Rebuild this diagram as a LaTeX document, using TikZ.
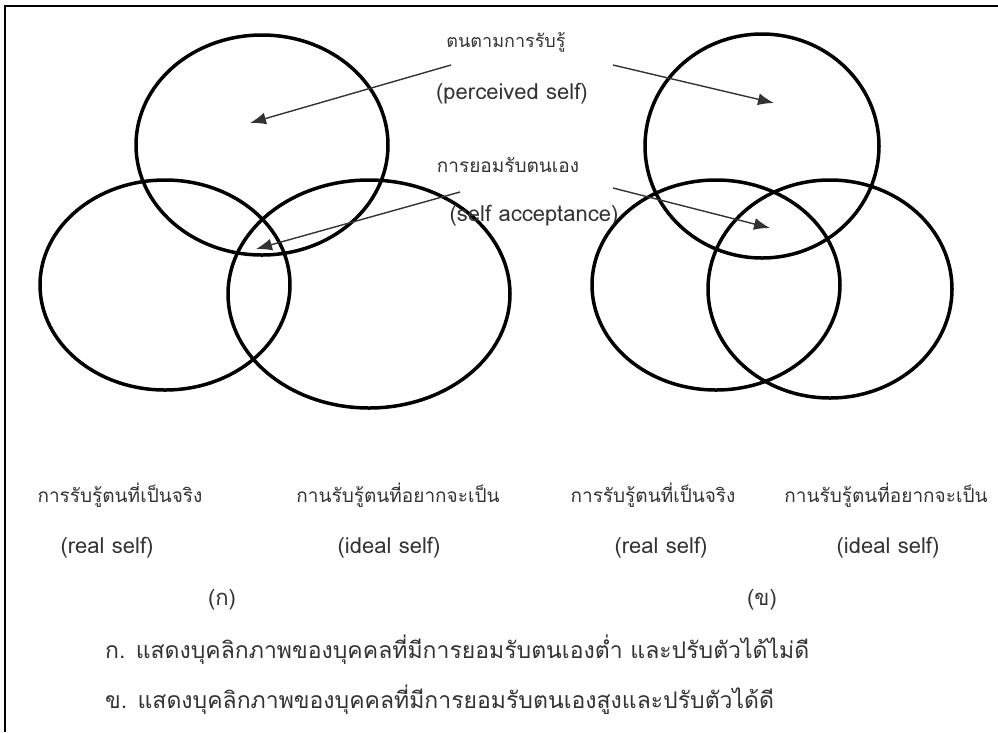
\documentclass[tikz,border=0pt]{standalone}
\usepackage{fontspec}
\setmainfont{Loma}[Script=Thai]
\usetikzlibrary{shapes.geometric, arrows.meta}

\begin{document}
\begin{tikzpicture}[x=1pt,y=1pt,
    ring/.style={ellipse,draw,line width=3.5pt,inner sep=0pt},
    lbl/.style={text=black!80,font=\fontsize{19}{22}\selectfont,inner sep=0pt},
    eng/.style={lbl,font=\fontsize{22}{26}\selectfont},
    pointer/.style={-{Latex[length=16pt,width=12pt]},line width=1.4pt,draw=black!80}]

\useasboundingbox (0,0) rectangle (998,-732);
\draw[line width=2.5pt] (5,-732) -- (5,-6) -- (998,-6);

% (ก)
\node[ring,minimum width=252pt,minimum height=220pt] (perc1)  at (262,-145) {};
\node[ring,minimum width=250pt,minimum height=210pt] (real1)  at (165,-285) {};
\node[ring,minimum width=282pt,minimum height=228pt] (ideal1) at (369,-294) {};

% (ข)
\node[ring,minimum width=234pt,minimum height=224pt] (perc2)  at (762,-146) {};
\node[ring,minimum width=248pt,minimum height=210pt] (real2)  at (716,-285) {};
\node[ring,minimum width=244pt,minimum height=218pt] (ideal2) at (830,-289) {};

% labels in the middle
\node[lbl,font=\fontsize{18}{21}\selectfont] (perctext) at (506,-42) {ตนตามการรับรู้};
\node[eng] (perceng)  at (512,-94)  {(perceived self)};
\node[lbl] (acctext)  at (508,-165) {การยอมรับตนเอง};
\node[eng] (acceng)   at (534,-216) {(self acceptance)};

\coordinate (p1from) at (451,-65);
\coordinate (p1to)   at (250,-123);
\coordinate (p2from) at (613,-65);
\coordinate (p2to)   at (774,-103);
\coordinate (a1from) at (460,-192);
\coordinate (a1to)   at (256,-249);
\coordinate (a2from) at (613,-188);
\coordinate (a2to)   at (770,-228);

\draw[pointer] (p1from) -- (p1to);
\draw[pointer] (p2from) -- (p2to);
\draw[pointer] (a1from) -- (a1to);
\draw[pointer] (a2from) -- (a2to);

% labels below
\node[lbl] (realth1)  at (120,-495) {การรับรู้ตนที่เป็นจริง};
\node[eng] (realen1)  at (107,-548) {(real self)};
\node[lbl] (idealth1) at (398,-495) {กานรับรู้ตนที่อยากจะเป็น};
\node[eng] (idealen1) at (389,-548) {(ideal self)};
\node[eng] (tag1)     at (222,-600) {(ก)};

\node[lbl] (realth2)  at (653,-495) {การรับรู้ตนที่เป็นจริง};
\node[eng] (realen2)  at (661,-548) {(real self)};
\node[lbl] (idealth2) at (886,-495) {กานรับรู้ตนที่อยากจะเป็น};
\node[eng] (idealen2) at (888,-548) {(ideal self)};
\node[eng] (tag2)     at (762,-600) {(ข)};

% captions
\node[eng,anchor=west,font=\fontsize{23}{27}\selectfont] (cap1) at (105,-650) {ก. แสดงบุคลิกภาพของบุคคลที่มีการยอมรับตนเองต่ำ และปรับตัวได้ไม่ดี};
\node[eng,anchor=west,font=\fontsize{23}{27}\selectfont] (cap2) at (105,-700) {ข. แสดงบุคลิกภาพของบุคคลที่มีการยอมรับตนเองสูงและปรับตัวได้ดี};
\end{tikzpicture}
\end{document}
